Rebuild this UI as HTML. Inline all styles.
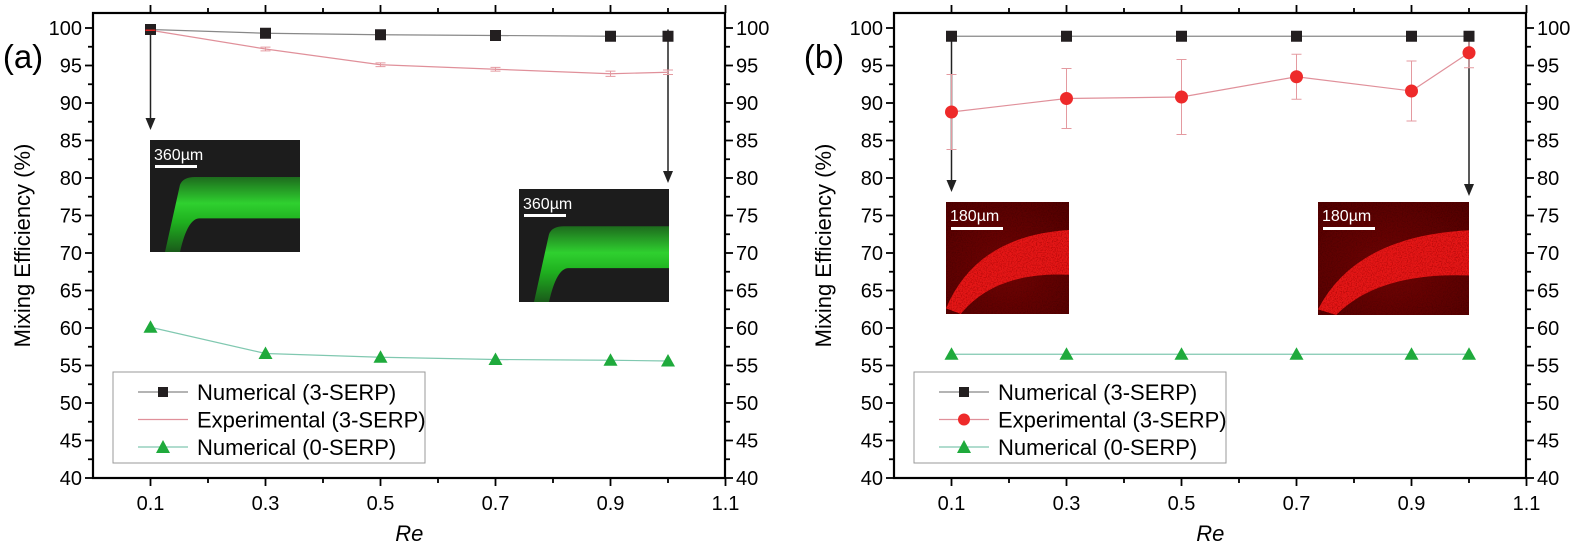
<!DOCTYPE html>
<html><head><meta charset="utf-8"><style>
html,body{margin:0;padding:0;background:#fff}
svg{display:block;font-family:"Liberation Sans",Arial,sans-serif}
</style></head><body>
<svg id="s" width="1575" height="547" viewBox="0 0 1575 547" xmlns="http://www.w3.org/2000/svg">
<defs>
<linearGradient id="gband" x1="0" y1="0" x2="0" y2="1">
<stop offset="0" stop-color="#1d6b1d"/><stop offset="0.35" stop-color="#2fd02f"/><stop offset="0.6" stop-color="#1fb01f"/><stop offset="1" stop-color="#1a5a1a"/></linearGradient>
<radialGradient id="rbg" cx="0.5" cy="0.6" r="0.8">
<stop offset="0" stop-color="#4a0505"/><stop offset="1" stop-color="#140000"/></radialGradient>
<filter id="noise"><feTurbulence type="fractalNoise" baseFrequency="0.8" numOctaves="2" result="n"/><feColorMatrix type="matrix" values="0 0 0 0 0  0 0 0 0 0  0 0 0 0 0  0 0 0 -0.8 1.3" in="n" result="m"/><feComposite in="SourceGraphic" in2="m" operator="in"/></filter>
</defs>
<g id="g"></g>
</svg>
<script>
var G=document.getElementById('g'),NS='http://www.w3.org/2000/svg';
function el(t,a,txt){var e=document.createElementNS(NS,t);for(var k in a)e.setAttribute(k,a[k]);if(txt!=null)e.textContent=txt;G.appendChild(e);return e;}
function panel(ox,lab,exp,expErr,num3,num0,redMarkers,insets){
  var L=ox,R=ox+632,T=13,B=478;
  var X=function(v){return L+v*575},Y=function(v){return 28+(100-v)*7.5};
  insets.forEach(function(r){
    if(r.t=='g'){
      el('rect',{x:r.x,y:r.y,width:r.w,height:r.h,fill:'#1c1c1c'});
      var by=r.y+r.h*0.33,bb=r.y+r.h*0.7;
      el('path',{d:'M'+(r.x+r.w*0.1)+','+(r.y+r.h)+' L'+(r.x+r.w*0.2)+','+(r.y+r.h*0.4)+' Q'+(r.x+r.w*0.22)+','+by+' '+(r.x+r.w*0.3)+','+by+' L'+(r.x+r.w)+','+by+' L'+(r.x+r.w)+','+bb+' L'+(r.x+r.w*0.33)+','+bb+' Q'+(r.x+r.w*0.25)+','+bb+' '+(r.x+r.w*0.2)+','+(r.y+r.h)+' Z',fill:'url(#gband)'});
      el('rect',{x:r.x+5,y:r.y+25,width:42,height:3,fill:'#fff'});
      el('text',{x:r.x+4,y:r.y+20,'font-size':16,fill:'#fff'},'360\u00b5m');
    }else{
      el('rect',{x:r.x,y:r.y,width:r.w,height:r.h,fill:'url(#rbg)'});
      el('rect',{x:r.x,y:r.y,width:r.w,height:r.h,fill:'#a00606',filter:'url(#noise)',opacity:0.45});
      el('path',{d:'M'+r.x+','+(r.y+r.h*0.95)+' Q'+(r.x+r.w*0.25)+','+(r.y+r.h*0.3)+' '+(r.x+r.w)+','+(r.y+r.h*0.25)+' L'+(r.x+r.w)+','+(r.y+r.h*0.65)+' Q'+(r.x+r.w*0.4)+','+(r.y+r.h*0.62)+' '+(r.x+r.w*0.12)+','+(r.y+r.h)+' Z',fill:'#e81414',filter:'url(#noise)'});
      el('rect',{x:r.x+5,y:r.y+25,width:52,height:3,fill:'#fff'});
      el('text',{x:r.x+4,y:r.y+19,'font-size':16,fill:'#fff'},'180\u00b5m');
    }
  });
  el('rect',{x:L,y:T,width:R-L,height:B-T,fill:'none',stroke:'#000','stroke-width':2.2});
  for(var v=40;v<=100;v+=2.5){var maj=(v%5==0),len=maj?8:5;
    el('line',{x1:L-len,x2:L,y1:Y(v),y2:Y(v),stroke:'#000','stroke-width':1.8});
    el('line',{x1:R,x2:R+len,y1:Y(v),y2:Y(v),stroke:'#000','stroke-width':1.8});
    if(maj){el('text',{x:L-11,y:Y(v)+7,'font-size':20,'text-anchor':'end'},v);
      el('text',{x:R+11,y:Y(v)+7,'font-size':20},v);}}
  for(var i=1;i<=11;i++){var xv=i*0.1,maj=(i%2==1),len=maj?8:5;
    el('line',{x1:X(xv),x2:X(xv),y1:B,y2:B+len,stroke:'#000','stroke-width':1.8});
    el('line',{x1:X(xv),x2:X(xv),y1:T-len,y2:T,stroke:'#000','stroke-width':1.8});
    if(maj)el('text',{x:X(xv),y:B+32,'font-size':20,'text-anchor':'middle'},xv.toFixed(1));}
  el('text',{x:0,y:0,'font-size':22,'text-anchor':'middle',transform:'translate('+(ox-63)+','+((T+B)/2)+') rotate(-90)'},'Mixing Efficiency (%)');
  el('text',{x:X(0.55),y:541,'font-size':22,'font-style':'italic','text-anchor':'middle'},'Re');
  el('text',{x:ox-70,y:68,'font-size':33,'text-anchor':'middle'},lab);
  var xs=[0.1,0.3,0.5,0.7,0.9,1.0];
  [[xs[0],insets[0].y-10],[xs[5],insets[1].y-6]].forEach(function(a){
    el('line',{x1:X(a[0]),x2:X(a[0]),y1:Y(num3[0]),y2:a[1]-10,stroke:'#222','stroke-width':1.5});
    el('path',{d:'M'+(X(a[0])-5)+','+(a[1]-12)+' L'+(X(a[0])+5)+','+(a[1]-12)+' L'+X(a[0])+','+a[1]+' Z',fill:'#222'});
  });
  function pl(d,c,w){el('polyline',{points:xs.map(function(x,i){return X(x)+','+Y(d[i])}).join(' '),fill:'none',stroke:c,'stroke-width':w});}
  pl(num3,'#888',1.2);pl(exp,'#e0909a',1.2);pl(num0,'#80c8b0',1.2);
  xs.forEach(function(x,i){var e=expErr[i];
    el('line',{x1:X(x),x2:X(x),y1:Y(exp[i]+e),y2:Y(exp[i]-e),stroke:'#e49aa0','stroke-width':1});
    [exp[i]+e,exp[i]-e].forEach(function(v){el('line',{x1:X(x)-5,x2:X(x)+5,y1:Y(v),y2:Y(v),stroke:'#e49aa0','stroke-width':1});});
    el('rect',{x:X(x)-5.5,y:Y(num3[i])-5.5,width:11,height:11,fill:'#231f20'});
    if(redMarkers)el('circle',{cx:X(x),cy:Y(exp[i]),r:6.5,fill:'#ee2a2a'});
    el('path',{d:'M'+(X(x)-7)+','+(Y(num0[i])+5.5)+' L'+(X(x)+7)+','+(Y(num0[i])+5.5)+' L'+X(x)+','+(Y(num0[i])-7)+' Z',fill:'#1faa3c'});
  });
  if(!redMarkers)el('line',{x1:X(0.1)-5,x2:X(0.1)+5,y1:Y(exp[0]),y2:Y(exp[0]),stroke:'#e02020','stroke-width':1.5});
  var lx=ox+20,ly=372;
  el('rect',{x:lx,y:ly,width:312,height:91,fill:'#fff',stroke:'#999','stroke-width':1});
  var rows=[['Numerical (3-SERP)','#888','sq'],['Experimental (3-SERP)','#e0909a',redMarkers?'ci':''],['Numerical (0-SERP)','#80c8b0','tr']];
  rows.forEach(function(r,i){var y=ly+20+i*27.5,cx=lx+50;
    el('line',{x1:lx+25,x2:lx+75,y1:y,y2:y,stroke:r[1],'stroke-width':1.2});
    if(r[2]=='sq')el('rect',{x:cx-5,y:y-5,width:10,height:10,fill:'#231f20'});
    if(r[2]=='ci')el('circle',{cx:cx,cy:y,r:6,fill:'#ee2a2a'});
    if(r[2]=='tr')el('path',{d:'M'+(cx-7)+','+(y+6)+' L'+(cx+7)+','+(y+6)+' L'+cx+','+(y-7)+' Z',fill:'#1faa3c'});
    el('text',{x:lx+84,y:y+8,'font-size':22},r[0]);
  });
}
panel(93,'(a)',[99.7,97.2,95.1,94.5,93.9,94.1],[0.15,0.25,0.25,0.25,0.35,0.3],[99.8,99.3,99.1,99.0,98.9,98.9],[60.1,56.6,56.1,55.8,55.7,55.6],false,
 [{t:'g',x:150,y:140,w:150,h:112},{t:'g',x:519,y:189,w:150,h:113}]);
panel(894,'(b)',[88.8,90.6,90.8,93.5,91.6,96.7],[5,4,5,3,4,2],[98.9,98.9,98.9,98.9,98.9,98.9],[56.5,56.5,56.5,56.5,56.5,56.5],true,
 [{t:'r',x:946,y:202,w:123,h:112},{t:'r',x:1318,y:202,w:151,h:113}]);
</script>
</body></html>
